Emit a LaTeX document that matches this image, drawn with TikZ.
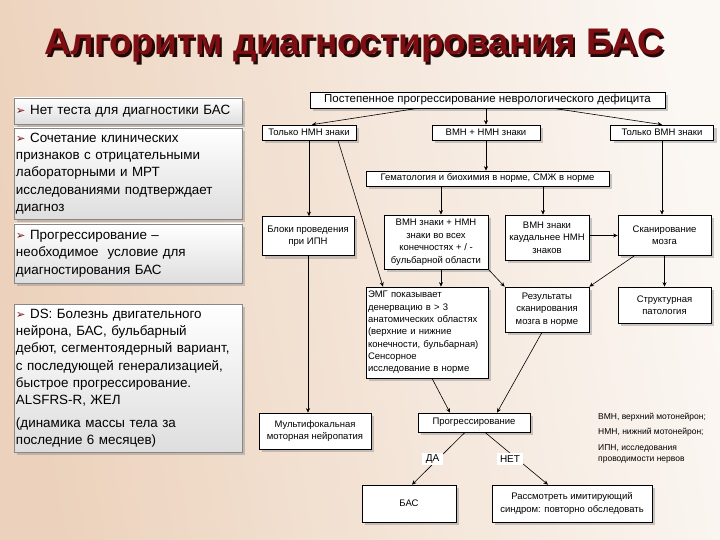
\documentclass[tikz,border=0pt]{standalone}
\usepackage{fontspec}
\setmainfont{Liberation Sans}
\newfontfamily\dvfont{DejaVu Sans}
\usetikzlibrary{shadows,arrows.meta,calc}
\definecolor{bgleft}{RGB}{236,210,188}
\definecolor{bgright}{RGB}{251,247,243}
\definecolor{titlec}{RGB}{125,14,18}
\definecolor{titlesh}{RGB}{35,8,8}
\definecolor{bulc}{RGB}{120,22,22}
\definecolor{lboxborder}{RGB}{135,135,135}
\newcommand{\bul}{{\dvfont\fontsize{11.5}{10}\selectfont\color{bulc}\char"27A2}}
\newcommand{\titletext}{Алгоритм диагностирования БАС}
\begin{document}
\begin{tikzpicture}[x=1pt,y=-1pt,
  fbox/.style={draw=black, line width=0.7pt, fill=white, align=center, inner sep=1pt,
    font=\fontsize{9.5}{12.5}\selectfont,
    drop shadow={shadow xshift=3pt, shadow yshift=-3pt, fill=black!45, opacity=0.45}},
  lbox/.style={draw=lboxborder, line width=0.7pt, top color=white, bottom color=black!13,
    align=left, text width=224pt, inner xsep=2pt, inner ysep=2pt,
    font=\fontsize{13.4}{17.3}\selectfont,
    drop shadow={shadow xshift=3pt, shadow yshift=-3pt, fill=black!45, opacity=0.45}},
  conn/.style={draw=black, line width=0.6pt, -{Stealth[length=4.5pt,width=4pt]}},
  lab/.style={fill=white, inner sep=1pt, font=\fontsize{10}{12}\selectfont},
  legend/.style={anchor=west, align=left, inner sep=0pt, font=\fontsize{8.5}{11}\selectfont}
]
\useasboundingbox (0,0) rectangle (720,540);
\shade[left color=bgleft, right color=bgright, shading angle=100] (0,0) rectangle (720,540);

% title with its shadow in one node
\node[font=\fontsize{37}{40}\selectfont\bfseries] (title) at (354,47)
  {\makebox[0pt][l]{\hspace{2.5pt}\raisebox{-2.5pt}{\color{titlesh}\titletext}}\textcolor{titlec}{\titletext}};

% left boxes
\node[lbox, minimum height=26pt] (l1) at (128,111) {\bul\ Нет теста для диагностики БАС};
\node[lbox, minimum height=91pt] (l2) at (128,173.5) {\bul\ Сочетание клинических\\признаков с отрицательными\\лабораторными и МРТ\\исследованиями подтверждает\\диагноз};
\node[lbox, minimum height=59pt] (l3) at (128,253.5) {\bul\ Прогрессирование --\\необходимое\ \ условие для\\диагностирования БАС};
\node[lbox, minimum height=148pt] (l4) at (128,378) {\bul\ DS: Болезнь двигательного\\нейрона, БАС, бульбарный\\дебют, сегментоядерный вариант,\\с последующей генерализацией,\\быстрое прогрессирование.\\ALSFRS-R, ЖЕЛ\\[5pt](динамика массы тела за\\последние 6 месяцев)};

% flowchart boxes
\node[fbox, minimum width=355pt, minimum height=16pt, font=\fontsize{11.5}{13}\selectfont] (top) at (487.5,100) {Постепенное прогрессирование неврологического дефицита};
\node[fbox, minimum width=94pt, minimum height=15pt] (nmn) at (309,132.5) {Только НМН знаки};
\node[fbox, minimum width=108pt, minimum height=15pt] (both) at (486,132.5) {ВМН + НМН знаки};
\node[fbox, minimum width=103pt, minimum height=15pt] (vmn) at (662,132.5) {Только ВМН знаки};
\node[fbox, minimum width=243pt, minimum height=15pt] (gem) at (487.5,178.5) {Гематология и биохимия в норме, СМЖ в норме};
\node[fbox, minimum width=92pt, minimum height=39pt] (bloki) at (308,236) {Блоки проведения\\при ИПН};
\node[fbox, minimum width=104pt, minimum height=54pt] (allb) at (436,242) {ВМН знаки + НМН\\знаки во всех\\конечностях + / -\\бульбарной области};
\node[fbox, minimum width=84pt, minimum height=45pt] (caud) at (547,237.5) {ВМН знаки\\каудальнее НМН\\знаков};
\node[fbox, minimum width=93pt, minimum height=40pt] (scan) at (664.5,235) {Сканирование\\мозга};
\node[fbox, minimum width=122pt, minimum height=91pt, align=left, text width=118pt, font=\fontsize{9.5}{12.3}\selectfont] (emg) at (427,332.5) {ЭМГ показывает\\денервацию в > 3\\анатомических областях\\(верхние и нижние\\конечности, бульбарная)\\Сенсорное\\исследование в норме};
\node[fbox, minimum width=84pt, minimum height=45pt] (res) at (547,309.5) {Результаты\\сканирования\\мозга в норме};
\node[fbox, minimum width=93pt, minimum height=36pt] (struct) at (664.5,305) {Структурная\\патология};
\node[fbox, minimum width=112pt, minimum height=36pt] (multi) at (315,431) {Мультифокальная\\моторная нейропатия};
\node[fbox, minimum width=112pt, minimum height=19pt] (prog) at (474,422.5) {Прогрессирование};
\node[fbox, minimum width=94pt, minimum height=37pt] (bas) at (409,503.5) {БАС};
\node[fbox, minimum width=160pt, minimum height=37pt] (cons) at (572,503.5) {Рассмотреть имитирующий\\синдром: повторно обследовать};

% connectors
\draw[conn] ([xshift=-70pt]top.south) -- ([xshift=3pt]nmn.north);
\draw[conn] (both.north |- top.south) -- (both.north);
\draw[conn] ([xshift=66pt]top.south) -- (vmn.north);
\draw[conn] (both.south) -- (both.south |- gem.north);
\draw[conn] (nmn.south) -- (nmn.south |- bloki.north);
\draw[conn] ([xshift=29pt]nmn.south) -- ([xshift=-44pt]emg.north);
\draw[conn] ([xshift=-46.5pt]gem.south) -- ([xshift=-46.5pt]gem.south |- allb.north);
\draw[conn] ([xshift=55.5pt]gem.south) -- ([xshift=55.5pt]gem.south |- caud.north);
\draw[conn] (vmn.south) -- (vmn.south |- scan.north);
\draw[conn] ([yshift=2pt]caud.east) -- ([yshift=2pt]caud.east -| scan.west);
\draw[conn] ([xshift=5pt]allb.south) -- ([xshift=5pt]allb.south |- emg.north);
\draw[conn] (allb.south east) -- (res.north west);
\draw[conn] ([xshift=-29.5pt]scan.south) -- (res.north east);
\draw[conn] (scan.south) -- (scan.south |- struct.north);
\draw[conn] (bloki.south) -- (bloki.south |- multi.north);
\draw[conn] ([xshift=5pt]emg.south) -- ([xshift=-24pt]prog.north);
\draw[conn] ([xshift=-5pt]res.south) -- ([xshift=23pt]prog.north);
\draw[conn] ([xshift=-9pt]prog.south) -- ([xshift=3pt]bas.north);
\draw[conn] ([xshift=11pt]prog.south) -- ([xshift=-24pt]cons.north);

% labels
\node[lab, minimum width=21pt, minimum height=12pt] (da) at (432.5,459) {ДА};
\node[lab, minimum width=26pt, minimum height=12pt] (net) at (510,459) {НЕТ};

% legend
\node[legend] (lg1) at (598,417) {ВМН, верхний мотонейрон;};
\node[legend] (lg2) at (598,432) {НМН, нижний мотонейрон;};
\node[legend] (lg3) at (598,454) {ИПН, исследования\\проводимости нервов};
\end{tikzpicture}
\end{document}
